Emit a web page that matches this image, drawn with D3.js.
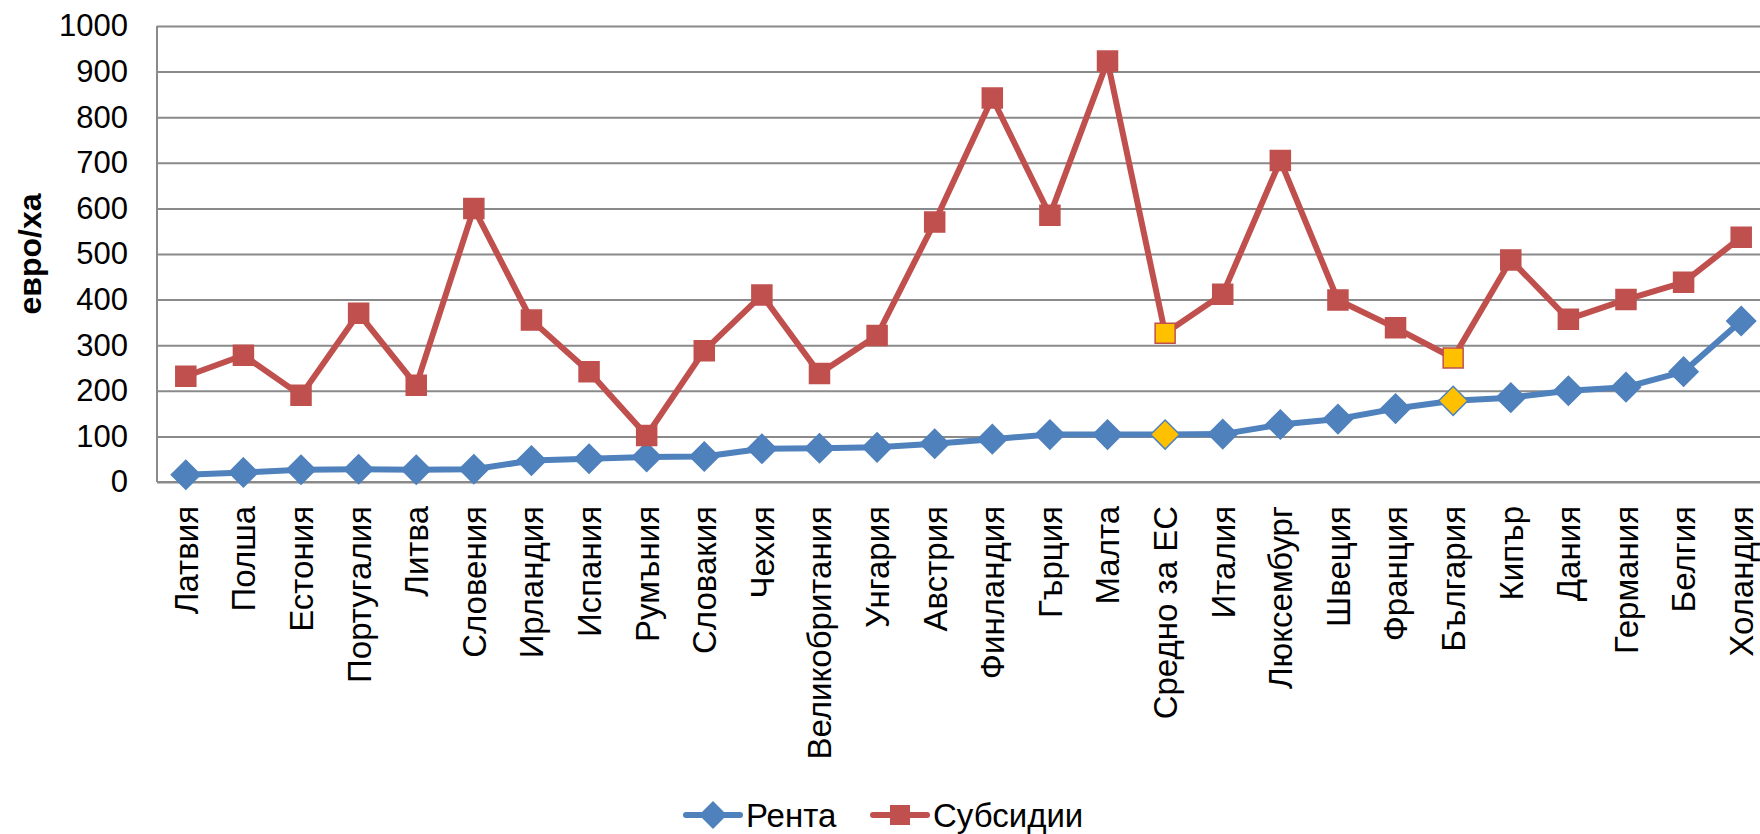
<!DOCTYPE html>
<html>
<head>
<meta charset="utf-8">
<script src="https://cdn.jsdelivr.net/npm/d3@7"></script>
<style>
html,body{margin:0;padding:0;background:#fff;overflow:hidden;}
svg{display:block;}
</style>
</head>
<body>
<svg id="chart" width="1760" height="834"></svg>
<script>
const categories = ["Латвия","Полша","Естония","Португалия","Литва","Словения","Ирландия","Испания","Румъния","Словакия","Чехия","Великобритания","Унгария","Австрия","Финландия","Гърция","Малта","Средно за ЕС","Италия","Люксембург","Швеция","Франция","България","Кипър","Дания","Германия","Белгия","Холандия"];
const renta = [16,21,27,28,27,28,47,51,55,56,73,74,76,84,94,104,104,104,105,126,138,161,178,185,200,208,242,353];
const subsidii = [232,278,190,370,212,600,355,242,102,288,410,238,321,570,842,585,923,326,412,705,399,338,272,487,357,400,438,537];
const highlighted = ["Средно за ЕС","България"];
const yTicks = [0,100,200,300,400,500,600,700,800,900,1000];
const seriesNames = ["Рента","Субсидии"];

const svg = d3.select("#chart");
const pLeft = 157, pRight = 1770, pTop = 26, pBottom = 482;
const font = "'Liberation Sans', Arial, sans-serif";
const gridColor = "#8a8a8a";
const blue = "#4F81BD", red = "#C0504D", yellow = "#FFC000";

const x = d3.scaleBand().domain(categories).range([pLeft, pRight]).paddingInner(0).paddingOuter(0);
const y = d3.scaleLinear().domain([0, 1000]).range([pBottom, pTop]);
const cx = c => x(c) + x.bandwidth() / 2;

// gridlines
const grid = svg.append("g").attr("transform", `translate(${pLeft},0)`)
  .call(d3.axisLeft(y).tickValues(yTicks).tickSize(-(pRight - pLeft)).tickFormat(""));
grid.select(".domain").remove();
grid.selectAll("line").attr("stroke", gridColor).attr("stroke-width", 2);

// y axis labels
const yAxis = svg.append("g").attr("transform", `translate(${pLeft},0)`)
  .call(d3.axisLeft(y).tickValues(yTicks).tickSize(0).tickPadding(29).tickFormat(d3.format("d")));
yAxis.select(".domain").remove();
yAxis.selectAll("text").attr("font-family", font).attr("font-size", 31).attr("fill", "#000");

// axis lines
svg.append("line").attr("x1", pLeft).attr("x2", pLeft).attr("y1", pTop).attr("y2", pBottom)
  .attr("stroke", gridColor).attr("stroke-width", 2);
svg.append("line").attr("x1", pLeft).attr("x2", pRight).attr("y1", pBottom).attr("y2", pBottom)
  .attr("stroke", gridColor).attr("stroke-width", 2);

// x axis labels
const xAxis = svg.append("g").attr("transform", `translate(0,${pBottom})`)
  .call(d3.axisBottom(x).tickSize(0));
xAxis.select(".domain").remove();
xAxis.selectAll("text")
  .attr("font-family", font).attr("font-size", 33).attr("fill", "#000")
  .attr("transform", "rotate(-90)")
  .attr("text-anchor", "end")
  .attr("x", -24).attr("y", 0).attr("dy", "0.36em");

// y axis title
svg.append("text").attr("transform", `translate(30,${(pTop + pBottom) / 2}) rotate(-90)`)
  .attr("text-anchor", "middle").attr("dy", "0.35em")
  .attr("font-family", font).attr("font-size", 32).attr("font-weight", "bold")
  .text("евро/ха");

const line = d3.line().x(d => cx(d.c)).y(d => y(d.v));
const rentaData = categories.map((c, i) => ({c, v: renta[i]}));
const subData = categories.map((c, i) => ({c, v: subsidii[i]}));

const diamond = (s) => `M0,${-s}L${s},0L0,${s}L${-s},0Z`;
const square = (s) => `M${-s},${-s}H${s}V${s}H${-s}Z`;

// Рента
svg.append("path").datum(rentaData).attr("d", line)
  .attr("fill", "none").attr("stroke", blue).attr("stroke-width", 6).attr("stroke-linejoin", "round");
svg.append("g").selectAll("path").data(rentaData).join("path")
  .attr("transform", d => `translate(${cx(d.c)},${y(d.v)})`)
  .attr("d", diamond(14.5))
  .attr("fill", d => highlighted.includes(d.c) ? yellow : blue)
  .attr("stroke", blue).attr("stroke-width", 1.5);

// Субсидии
svg.append("path").datum(subData).attr("d", line)
  .attr("fill", "none").attr("stroke", red).attr("stroke-width", 6).attr("stroke-linejoin", "round");
svg.append("g").selectAll("path").data(subData).join("path")
  .attr("transform", d => `translate(${cx(d.c)},${y(d.v)})`)
  .attr("d", square(10))
  .attr("fill", d => highlighted.includes(d.c) ? yellow : red)
  .attr("stroke", red).attr("stroke-width", 1.5);

// legend
const legend = svg.append("g").attr("transform", "translate(0,815)");
const legendItems = [
  {name: seriesNames[0], color: blue, x0: 686, marker: diamond(14)},
  {name: seriesNames[1], color: red, x0: 873, marker: square(10)}
];
legendItems.forEach(it => {
  legend.append("line").attr("x1", it.x0).attr("x2", it.x0 + 54).attr("y1", 0).attr("y2", 0)
    .attr("stroke", it.color).attr("stroke-width", 6).attr("stroke-linecap", "round");
  legend.append("path").attr("transform", `translate(${it.x0 + 27},0)`).attr("d", it.marker)
    .attr("fill", it.color);
  legend.append("text").attr("x", it.x0 + 60).attr("y", 0).attr("dy", "0.36em")
    .attr("font-family", font).attr("font-size", 33).attr("fill", "#000").text(it.name);
});
</script>
</body>
</html>
